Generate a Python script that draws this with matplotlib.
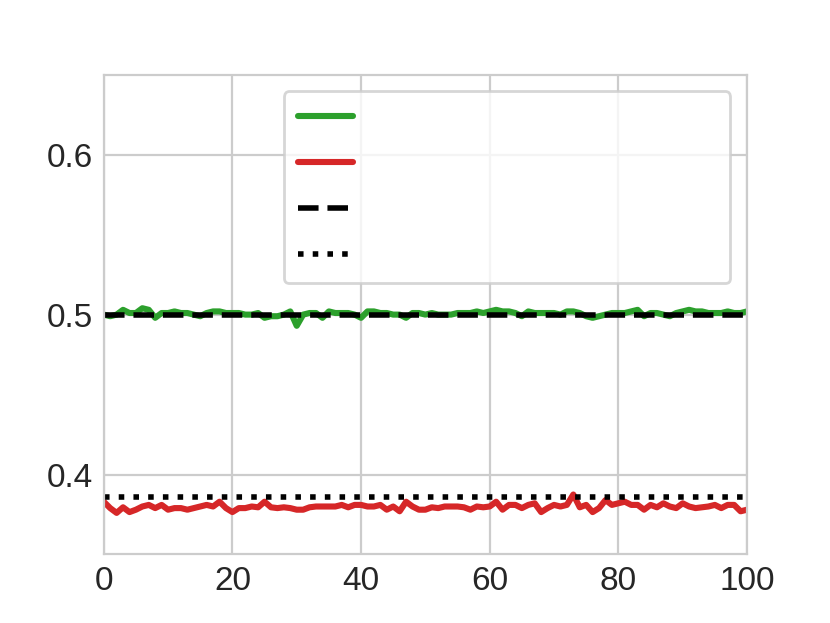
import numpy as np
import matplotlib
matplotlib.use("Agg")
import matplotlib.pyplot as plt
import seaborn as sns

# values, x = 0..100
steps = np.arange(0, 101)
green_vals = [0.500, 0.499, 0.500, 0.503, 0.501, 0.501, 0.504, 0.503, 0.498, 0.501,
              0.501, 0.502, 0.501, 0.501, 0.500, 0.499, 0.501, 0.502, 0.502, 0.501,
              0.501, 0.501, 0.500, 0.500, 0.501, 0.498, 0.499, 0.499, 0.500, 0.502,
              0.493, 0.500, 0.501, 0.501, 0.498, 0.502, 0.501, 0.501, 0.501, 0.500,
              0.498, 0.502, 0.502, 0.501, 0.501, 0.500, 0.500, 0.498, 0.501, 0.501,
              0.500, 0.501, 0.500, 0.500, 0.500, 0.501, 0.501, 0.501, 0.502, 0.501,
              0.502, 0.503, 0.502, 0.502, 0.501, 0.499, 0.502, 0.501, 0.501, 0.501,
              0.501, 0.500, 0.502, 0.502, 0.501, 0.499, 0.498, 0.499, 0.500, 0.501,
              0.501, 0.501, 0.502, 0.503, 0.499, 0.501, 0.501, 0.500, 0.499, 0.501,
              0.502, 0.503, 0.502, 0.502, 0.501, 0.501, 0.501, 0.502, 0.501, 0.501,
              0.502]
red_vals = [0.383, 0.379, 0.376, 0.3795, 0.3765, 0.378, 0.380, 0.381, 0.379, 0.381,
            0.378, 0.379, 0.379, 0.378, 0.379, 0.380, 0.381, 0.380, 0.383, 0.379,
            0.3765, 0.379, 0.379, 0.380, 0.3795, 0.383, 0.3795, 0.379, 0.3795, 0.379,
            0.378, 0.378, 0.3795, 0.380, 0.380, 0.380, 0.380, 0.381, 0.3795, 0.381,
            0.381, 0.380, 0.380, 0.381, 0.378, 0.380, 0.377, 0.383, 0.380, 0.378,
            0.378, 0.3795, 0.379, 0.380, 0.380, 0.380, 0.3795, 0.378, 0.380, 0.3795,
            0.380, 0.383, 0.378, 0.381, 0.381, 0.379, 0.381, 0.382, 0.3765, 0.379,
            0.381, 0.380, 0.381, 0.3875, 0.3795, 0.381, 0.3765, 0.379, 0.384, 0.381,
            0.382, 0.383, 0.381, 0.381, 0.378, 0.381, 0.3795, 0.382, 0.380, 0.379,
            0.382, 0.380, 0.379, 0.3795, 0.380, 0.381, 0.379, 0.381, 0.381, 0.377,
            0.378]
dashed_level = 0.5
dotted_level = 0.386

sns.set_style("whitegrid")
plt.rcParams['font.family'] = ['Liberation Sans', 'DejaVu Sans']

fig, ax = plt.subplots(figsize=(4.15, 3.115), dpi=200)

blank = ' ' * 44
ax.plot(steps, green_vals, color='tab:green', lw=2.2, label=blank)
ax.plot(steps, red_vals, color='tab:red', lw=2.2, label=blank)
ax.plot([steps[0], steps[-1]], [dashed_level, dashed_level], 'k--', lw=2, label=blank)
ax.plot([steps[0], steps[-1]], [dotted_level, dotted_level], 'k:', lw=2, label=blank)

ax.set_xlim(0, 100)
ax.set_ylim(0.35, 0.65)
ax.set_xticks([0, 20, 40, 60, 80, 100])
ax.set_yticks([0.4, 0.5, 0.6])
ax.tick_params(labelsize=12, colors='.15', length=0, pad=4)
for s in ax.spines.values():
    s.set_color('.8')

ax.legend(loc='upper right', fontsize=10, labelspacing=0.72, borderpad=0.5,
          borderaxespad=0.6)

plt.savefig('out.png', dpi=200)
